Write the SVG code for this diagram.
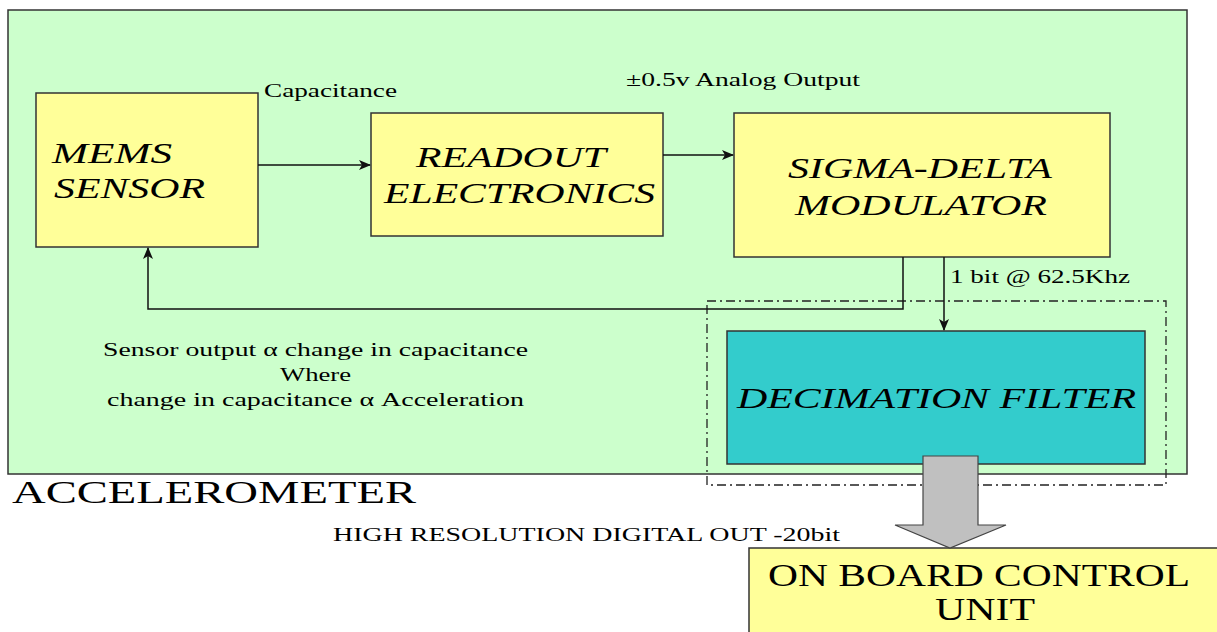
<svg xmlns="http://www.w3.org/2000/svg" width="1217" height="632" viewBox="0 0 1217 632">
<style>
.box{stroke:#333;stroke-width:1.5}
.ln{stroke:#111;stroke-width:1.5;fill:none}
.ti{font-family:"Liberation Serif",serif;font-style:italic;font-size:29px;fill:#000}
.tn{font-family:"Liberation Serif",serif;font-size:18px;fill:#000}
.tb{font-family:"Liberation Serif",serif;font-size:32px;fill:#000}
</style>
<defs>
<marker id="ah" viewBox="0 0 12 10" refX="11" refY="5" markerWidth="12" markerHeight="10" markerUnits="userSpaceOnUse" orient="auto">
<path d="M0,0 L12,5 L0,10 L3,5 Z" fill="#111"/>
</marker>
</defs>
<rect width="1217" height="632" fill="#fff"/>
<g id="accelerometer">
<rect class="box" x="8" y="10" width="1179" height="464" fill="#CCFFCC"/>
<text class="tb" x="12" y="503" textLength="404" lengthAdjust="spacingAndGlyphs">ACCELEROMETER</text>
</g>
<g id="mems">
<rect class="box" x="36" y="93" width="222" height="154" fill="#FFFF99"/>
<text class="ti" x="52" y="163" textLength="120" lengthAdjust="spacingAndGlyphs">MEMS</text>
<text class="ti" x="54" y="198" textLength="151" lengthAdjust="spacingAndGlyphs">SENSOR</text>
</g>
<g id="readout">
<rect class="box" x="371" y="113" width="292" height="123" fill="#FFFF99"/>
<text class="ti" x="416" y="167" textLength="190" lengthAdjust="spacingAndGlyphs">READOUT</text>
<text class="ti" x="384" y="203" textLength="271" lengthAdjust="spacingAndGlyphs">ELECTRONICS</text>
</g>
<g id="sigma">
<rect class="box" x="734" y="113" width="376" height="144" fill="#FFFF99"/>
<text class="ti" x="788" y="178" textLength="264" lengthAdjust="spacingAndGlyphs">SIGMA-DELTA</text>
<text class="ti" x="795" y="215" textLength="252" lengthAdjust="spacingAndGlyphs">MODULATOR</text>
</g>
<g id="decimation">
<rect x="707" y="301" width="459" height="184" fill="none" stroke="#222" stroke-width="1.3" stroke-dasharray="9 4 2 4"/>
<rect class="box" x="727" y="331" width="418" height="133" fill="#33CCCC"/>
<text class="ti" x="737" y="408" textLength="399" lengthAdjust="spacingAndGlyphs">DECIMATION FILTER</text>
</g>
<g id="obcu">
<rect class="box" x="749" y="548" width="470" height="90" fill="#FFFF99"/>
<text class="tb" x="768" y="586" textLength="422" lengthAdjust="spacingAndGlyphs">ON BOARD CONTROL</text>
<text class="tb" x="935" y="620" textLength="100" lengthAdjust="spacingAndGlyphs">UNIT</text>
</g>
<g id="connectors">
<line class="ln" x1="258" y1="165" x2="370" y2="165" marker-end="url(#ah)"/>
<line class="ln" x1="663" y1="155" x2="733" y2="155" marker-end="url(#ah)"/>
<line class="ln" x1="944" y1="257" x2="944" y2="330" marker-end="url(#ah)"/>
<polyline class="ln" points="903,257 903,309 148,309 148,248" marker-end="url(#ah)"/>
<path d="M923,456 L978,456 L978,525 L1006,525 L950,548 L895,525 L923,525 Z" fill="#C0C0C0" stroke="#444" stroke-width="1.2"/>
</g>
<g id="labels">
<text class="tn" x="264" y="97" textLength="133" lengthAdjust="spacingAndGlyphs">Capacitance</text>
<text class="tn" x="626" y="86" textLength="234" lengthAdjust="spacingAndGlyphs">±0.5v Analog Output</text>
<text class="tn" x="950" y="283" textLength="180" lengthAdjust="spacingAndGlyphs">1 bit @ 62.5Khz</text>
<text class="tn" x="103" y="356" textLength="425" lengthAdjust="spacingAndGlyphs">Sensor output α change in capacitance</text>
<text class="tn" x="280" y="381" textLength="71" lengthAdjust="spacingAndGlyphs">Where</text>
<text class="tn" x="107" y="406" textLength="417" lengthAdjust="spacingAndGlyphs">change in capacitance α Acceleration</text>
<text class="tn" x="333" y="541" textLength="507" lengthAdjust="spacingAndGlyphs">HIGH RESOLUTION DIGITAL OUT -20bit</text>
</g>
</svg>
